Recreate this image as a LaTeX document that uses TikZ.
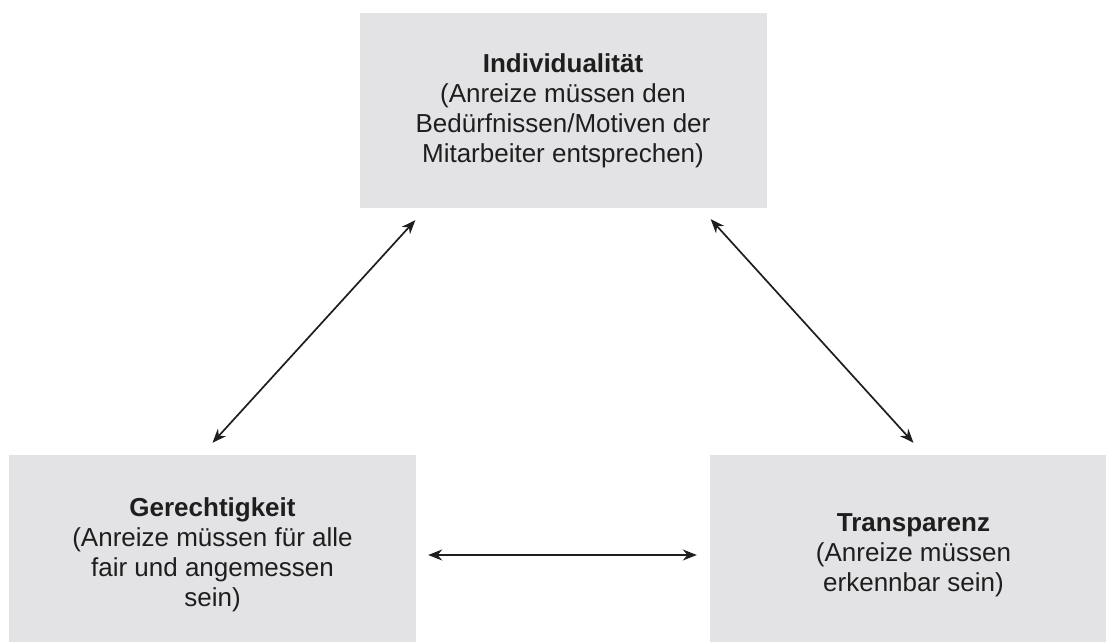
\documentclass[tikz,border=0pt]{standalone}
\usepackage{fontspec}
\setmainfont{Liberation Sans}
\usetikzlibrary{arrows.meta}
\definecolor{boxgray}{HTML}{E3E3E5}
\definecolor{inkgray}{HTML}{1E1E1E}
\begin{document}
\begin{tikzpicture}[x=1pt,y=-1pt,
  infobox/.style={fill=boxgray, draw=none, text=inkgray, align=center,
    minimum width=407pt, inner sep=0pt,
    font=\fontsize{26}{30}\selectfont},
  link/.style={inkgray, line width=1.7pt,
    {Stealth[length=14pt,width=11pt]}-{Stealth[length=14pt,width=11pt]}}]
  \useasboundingbox (0,0) rectangle (1106,642);
  \begin{scope}
    \clip (0,0) rectangle (1106,642);
    \node[infobox, minimum height=195pt] (ind) at (563,110.5)
      {\textbf{Individualität}\\(Anreize müssen den\\Bedürfnissen/Motiven der\\Mitarbeiter entsprechen)};
    \node[infobox, minimum height=200pt] (ger) at (212.5,555)
      {\textbf{Gerechtigkeit}\\(Anreize müssen für alle\\fair und angemessen\\sein)};
    \node[infobox, minimum height=200pt] (tra) at (913.5,555)
      {\textbf{Transparenz}\\(Anreize müssen\\erkennbar sein)};
  \end{scope}
  \draw[link] ([xshift=56pt,yshift=-12pt]ind.south west) -- ([yshift=12pt]ger.north);
  \draw[link] ([xshift=-56pt,yshift=-11pt]ind.south east) -- ([yshift=12pt]tra.north);
  \draw[link, shorten <=12pt, shorten >=13pt] (ger.east) -- (tra.west);
\end{tikzpicture}
\end{document}
